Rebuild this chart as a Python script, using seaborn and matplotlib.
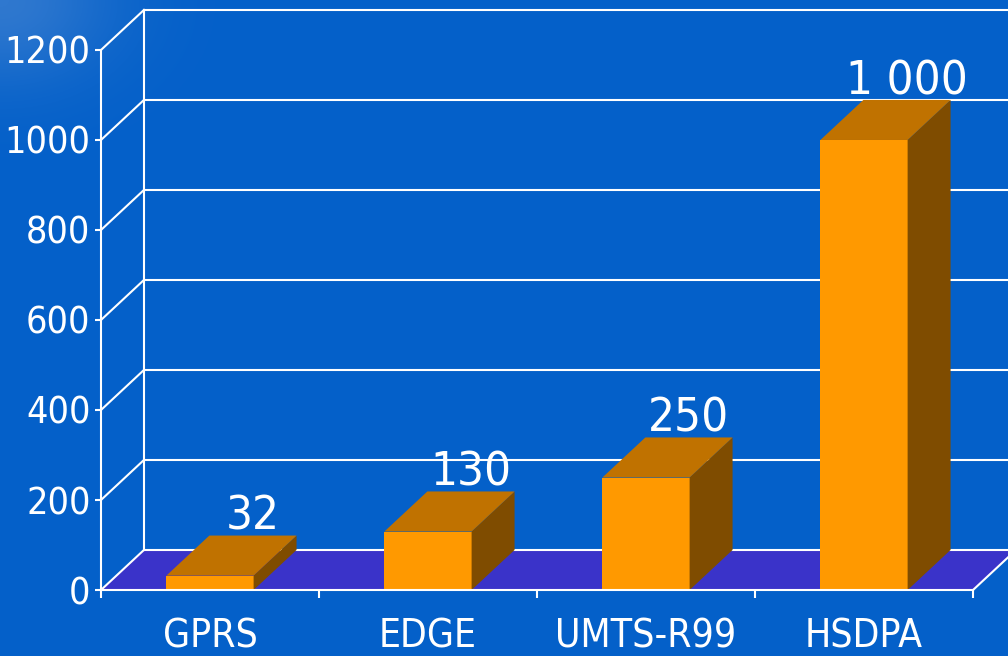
import numpy as np
import matplotlib
matplotlib.use("Agg")
import matplotlib.pyplot as plt
import seaborn as sns
from matplotlib.patches import Polygon
from matplotlib.colors import LinearSegmentedColormap

# data
categories = ["GPRS", "EDGE", "UMTS-R99", "HSDPA"]
speeds = [32, 130, 250, 1000]
value_labels = ["32", "130", "250", "1 000"]
yticks = [0, 200, 400, 600, 800, 1000, 1200]

# colours
BG = "#0460c9"
FLOOR = "#3a33c9"
FRONT = "#ff9900"
TOP = "#c07200"
SIDE = "#7f4c00"

W = 0.4              # bar width
DX, DY = 0.197, 89   # depth of the fake 3d box, in data units

plt.rcParams['font.family'] = ['DejaVu Sans']
plt.rcParams['font.stretch'] = 'condensed'

fig = plt.figure(figsize=(10.08, 6.56), dpi=100, facecolor=BG)

# faint lighter shading in the top-left corner of the slide background
bg_ax = fig.add_axes([0, 0, 1, 1], zorder=-1)
yy, xx = np.mgrid[0:656:4, 0:1008:4]
glow = np.exp(-np.hypot(xx / 110.0, yy / 80.0) ** 2)
bg_cmap = LinearSegmentedColormap.from_list('bg', [BG, '#2f78cf'])
bg_ax.imshow(glow, cmap=bg_cmap, vmin=0, vmax=1, aspect='auto',
             extent=[0, 1008, 656, 0], interpolation='bilinear')
bg_ax.axis('off')

ax = fig.add_axes([0.1002, 0.1006, 0.8651, 0.8232])
ax.set_facecolor('none')

# front faces of the bars
sns.barplot(x=categories, y=speeds, color=FRONT, saturation=1, width=W,
            errorbar=None, linewidth=0, ax=ax, zorder=3)
ax.set_xlim(-0.5, 3.5)
ax.set_ylim(0, 1200)

# floor
floor = Polygon([(-0.5, 0), (3.5, 0), (3.5 + DX, DY), (-0.5 + DX, DY)],
                closed=True, fc=FLOOR, ec='none', zorder=1, clip_on=False)
ax.add_patch(floor)

# back wall grid + left wall diagonals
for v in yticks:
    ax.plot([-0.5 + DX, 3.5 + DX], [v + DY, v + DY], color='white', lw=1.5,
            zorder=1.5, clip_on=False, solid_capstyle='butt')
    ax.plot([-0.5, -0.5 + DX], [v, v + DY], color='white', lw=1.5,
            zorder=1.5, clip_on=False)
ax.plot([-0.5 + DX, -0.5 + DX], [DY, 1200 + DY], color='white', lw=1.5,
        zorder=1.5, clip_on=False)
ax.plot([3.5, 3.5 + DX], [0, DY], color='white', lw=1.5, zorder=1.5, clip_on=False)

# top and side faces, value labels
for i, v in enumerate(speeds):
    l, r = i - W / 2, i + W / 2
    side = Polygon([(r, 0), (r + DX, DY), (r + DX, v + DY), (r, v)],
                   closed=True, fc=SIDE, ec='none', zorder=3, clip_on=False)
    top = Polygon([(l, v), (r, v), (r + DX, v + DY), (l + DX, v + DY)],
                  closed=True, fc=TOP, ec='none', zorder=3, clip_on=False)
    ax.add_patch(side)
    ax.add_patch(top)
    ax.annotate(value_labels[i], (i + DX, v + DY), xytext=(0, 4),
                textcoords='offset points', ha='center', va='baseline',
                color='white', fontsize=34, zorder=5, annotation_clip=False)

# axes styling
for s in ['top', 'right']:
    ax.spines[s].set_visible(False)
for s in ['left', 'bottom']:
    ax.spines[s].set_color('white')
    ax.spines[s].set_linewidth(1.5)
    ax.spines[s].set_zorder(4)

ax.set_yticks(yticks)
ax.set_yticklabels([str(t) for t in yticks])
ax.tick_params(axis='y', colors='white', labelsize=27, length=4.5, width=1.5, pad=3)
ax.set_xticks(range(len(categories)))
ax.set_xticklabels(categories)
ax.set_xticks([x - 0.5 for x in range(len(categories) + 1)], minor=True)
ax.tick_params(axis='x', which='major', colors='white', labelsize=28, length=0, pad=20)
ax.tick_params(axis='x', which='minor', colors='white', length=6, width=1.5)
ax.set_xlabel('')
ax.set_ylabel('')

fig.savefig('out.png', dpi=100, facecolor=BG)
